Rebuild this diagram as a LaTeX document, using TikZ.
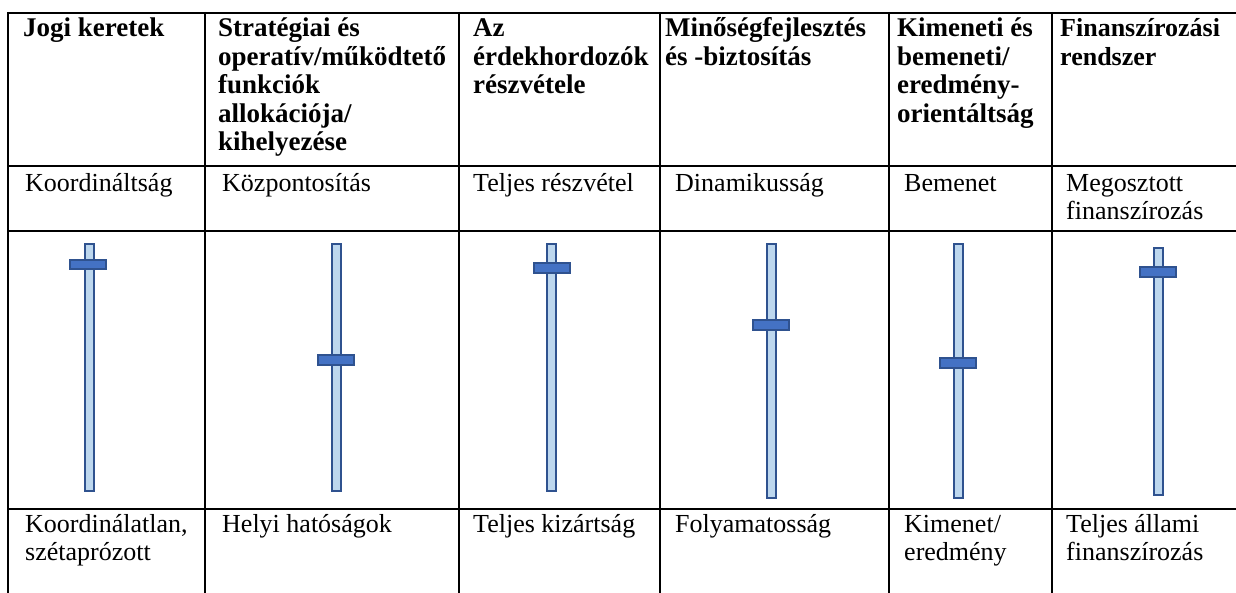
\documentclass[tikz,border=0pt]{standalone}
\usepackage{fontspec}
\setmainfont{Liberation Serif}
\definecolor{trackfill}{HTML}{BDD7EE}
\definecolor{knobfill}{HTML}{4472C4}
\definecolor{sliderborder}{HTML}{2F528F}
\tikzset{
  gridline/.style={line width=2pt, black},
  hdr/.style={anchor=base west, inner sep=0pt, font=\fontsize{27}{28}\selectfont\bfseries},
  txt/.style={anchor=base west, inner sep=0pt, font=\fontsize{26}{28}\selectfont},
  track/.style={draw=sliderborder, fill=trackfill, line width=2pt},
  knob/.style={draw=sliderborder, fill=knobfill, line width=2pt},
}
\begin{document}
\begin{tikzpicture}[x=1pt,y=-1pt]
\useasboundingbox (0,0) rectangle (1236,593);
% grid
\foreach \yy in {13,166,231,509} \draw[gridline] (7,\yy) -- (1236,\yy);
\foreach \xx in {8,205,459,660,889,1052} \draw[gridline] (\xx,12) -- (\xx,593);
% header row
\node[hdr] (h1a) at (23,37) {Jogi keretek};
\node[hdr] (h2a) at (218,37) {Stratégiai és};
\node[hdr] (h2b) at (218,65.5) {operatív/működtető};
\node[hdr] (h2c) at (218,94) {funkciók};
\node[hdr] (h2d) at (218,122.5) {allokációja/};
\node[hdr] (h2e) at (218,151) {kihelyezése};
\node[hdr] (h3a) at (473,37) {Az};
\node[hdr] (h3b) at (473,65.5) {érdekhordozók};
\node[hdr] (h3c) at (473,94) {részvétele};
\node[hdr] (h4a) at (665,37) {Minőségfejlesztés};
\node[hdr] (h4b) at (665,65.5) {és -biztosítás};
\node[hdr] (h5a) at (897,37) {Kimeneti és};
\node[hdr] (h5b) at (897,65.5) {bemeneti/};
\node[hdr] (h5c) at (897,94) {eredmény-};
\node[hdr] (h5d) at (897,122.5) {orientáltság};
\node[hdr, font=\fontsize{26}{28}\selectfont\bfseries] (h6a) at (1060,37) {Finanszírozási};
\node[hdr, font=\fontsize{26}{28}\selectfont\bfseries] (h6b) at (1060,65.5) {rendszer};
% top labels
\node[txt] (t1) at (25,192) {Koordináltság};
\node[txt] (t2) at (222,192) {Központosítás};
\node[txt] (t3) at (473,192) {Teljes részvétel};
\node[txt] (t4) at (675,192) {Dinamikusság};
\node[txt] (t5) at (904,192) {Bemenet};
\node[txt] (t6a) at (1066,192) {Megosztott};
\node[txt] (t6b) at (1066,220) {finanszírozás};
% sliders
\draw[track] (85,244) rectangle (94,491);
\draw[knob] (70,260) rectangle (106,269);
\draw[track] (332,244) rectangle (341,491);
\draw[knob] (318,355) rectangle (354,365);
\draw[track] (547,244) rectangle (556,491);
\draw[knob] (534,263) rectangle (570,273);
\draw[track] (767,244) rectangle (776,498);
\draw[knob] (753,320) rectangle (789,330);
\draw[track] (954,244) rectangle (963,498);
\draw[knob] (940,358) rectangle (976,368);
\draw[track] (1154,248) rectangle (1163,495);
\draw[knob] (1140,267) rectangle (1176,277);
% bottom labels
\node[txt] (b1a) at (25,532) {Koordinálatlan,};
\node[txt] (b1b) at (25,560) {szétaprózott};
\node[txt] (b2) at (222,532) {Helyi hatóságok};
\node[txt] (b3) at (473,532) {Teljes kizártság};
\node[txt] (b4) at (675,532) {Folyamatosság};
\node[txt] (b5a) at (904,532) {Kimenet/};
\node[txt] (b5b) at (904,560) {eredmény};
\node[txt] (b6a) at (1066,532) {Teljes állami};
\node[txt] (b6b) at (1066,560) {finanszírozás};
\end{tikzpicture}
\end{document}
